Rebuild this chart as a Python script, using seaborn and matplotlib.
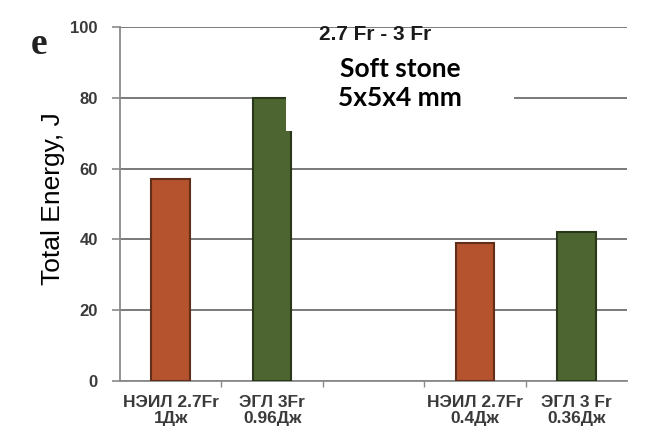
import matplotlib
matplotlib.use("Agg")
import matplotlib.pyplot as plt
import seaborn as sns
import pandas as pd
from matplotlib.patches import Rectangle
from matplotlib.ticker import FixedLocator
import matplotlib.colors as mcolors

# ---- data ----
labels = ["НЭИЛ 2.7Fr\n1Дж", "ЭГЛ 3Fr\n0.96Дж", "НЭИЛ 2.7Fr\n0.4Дж", "ЭГЛ 3 Fr\n0.36Дж"]
devices = ["НЭИЛ", "ЭГЛ", "НЭИЛ", "ЭГЛ"]
energy = [57, 80, 39, 42]
order = [labels[0], labels[1], "", labels[2], labels[3]]
yticks = [0, 20, 40, 60, 80, 100]
colors = {"НЭИЛ": "#b4532e", "ЭГЛ": "#4d6530"}

df = pd.DataFrame({"label": labels, "device": devices, "energy": energy})

sns.set_theme(style="white")
plt.rcParams["font.family"] = ["Liberation Sans", "DejaVu Sans"]

fig = plt.figure(figsize=(6.56, 4.34), dpi=100)
ax = fig.add_axes([0.183, 0.122, 0.773, 0.816])

sns.barplot(data=df, x="label", y="energy", hue="device", order=order,
            palette=colors, dodge=False, width=0.38, legend=False, ax=ax,
            saturation=1)

for p in ax.patches:
    fc = mcolors.to_rgb(p.get_facecolor())
    p.set_edgecolor(tuple(c * 0.55 for c in fc))
    p.set_linewidth(1.5)
    p.set_zorder(3)

ax.set_xlim(-0.5, 4.5)
ax.set_ylim(0, 100)
ax.set_yticks(yticks)
ax.set_yticklabels([str(v) for v in yticks])
ax.yaxis.grid(True, color="#707070", linewidth=1.3)
ax.set_axisbelow(True)

for s in ["top", "right"]:
    ax.spines[s].set_visible(False)
ax.spines["left"].set_color("#8a8a8a")
ax.spines["left"].set_linewidth(1.3)
ax.spines["bottom"].set_color("#8a8a8a")
ax.spines["bottom"].set_linewidth(1.3)

ax.tick_params(axis="y", length=6, width=1.2, color="#8a8a8a", pad=10,
               labelsize=12, labelcolor="#3a3a3a", left=True)
for t in ax.get_yticklabels():
    t.set_fontweight("bold")
ax.tick_params(axis="x", length=0, pad=10, labelsize=12.5, labelcolor="#3a3a3a")
for t in ax.get_xticklabels():
    t.set_fontweight("bold")
    t.set_linespacing(1.05)
ax.xaxis.set_minor_locator(FixedLocator([0.5, 1.5, 2.5, 3.5]))
ax.tick_params(axis="x", which="minor", length=4, width=1, color="#8a8a8a", bottom=True)

ax.set_xlabel("")
ax.set_ylabel("")

fig.text(53 / 656, 1 - 199 / 434, "Total Energy, J", rotation=90,
         ha="center", va="center", fontsize=19, color="black")

fig.text(31 / 656, 1 - 45 / 434, "e", fontsize=27, fontweight="bold",
         family=["Liberation Serif", "DejaVu Serif"], ha="left", va="center", color="#222222")

fig.text(375 / 656, 1 - 35 / 434, "2.7 Fr - 3 Fr", fontsize=15, fontweight="bold",
         ha="center", va="center", color="#1a1a1a")

fig.patches.append(Rectangle((286 / 656, 1 - 131 / 434), 228 / 656, 83 / 434,
                             transform=fig.transFigure, facecolor="white",
                             edgecolor="none", zorder=10))
fig.text(400 / 656, 1 - 69 / 434, "Soft stone", fontsize=19, fontweight="bold",
         family=["Lato", "DejaVu Sans"], ha="center", va="center", color="black", zorder=11)
fig.text(400 / 656, 1 - 98 / 434, "5x5x4 mm", fontsize=19, fontweight="bold",
         family=["Lato", "DejaVu Sans"], ha="center", va="center", color="black", zorder=11)

fig.savefig("out.png", dpi=100)
